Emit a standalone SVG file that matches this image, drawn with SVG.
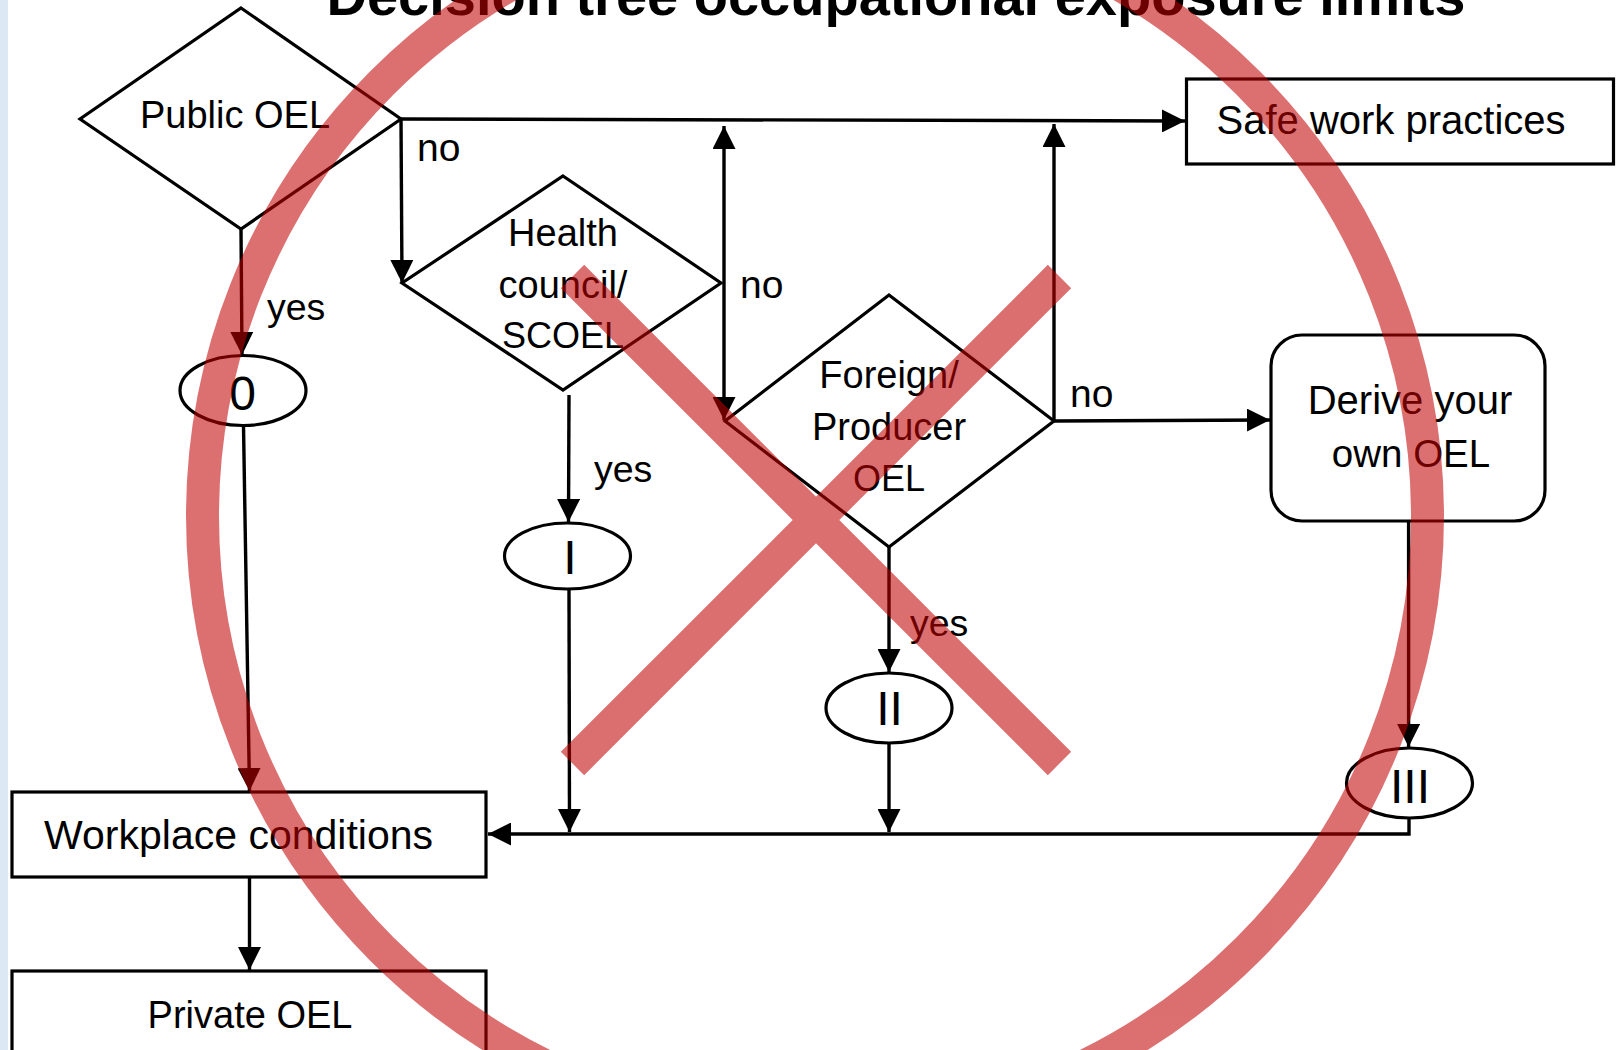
<svg xmlns="http://www.w3.org/2000/svg" width="1618" height="1050" viewBox="0 0 1618 1050">
  <style>
    .shape { fill: #ffffff; stroke: #000000; stroke-width: 3.2; }
    .conn { fill: none; stroke: #000000; stroke-width: 3.4; }
    .t { font-family: "Liberation Sans", Arial, sans-serif; font-size: 39px; fill: #000000; text-anchor: middle; }
    .lbl { font-family: "Liberation Sans", Arial, sans-serif; font-size: 39px; fill: #000000; }
    .num { font-family: "Liberation Sans", Arial, sans-serif; font-size: 48px; fill: #000000; text-anchor: middle; }
    .title { font-family: "Liberation Sans", Arial, sans-serif; font-size: 56px; font-weight: bold; fill: #000000; text-anchor: middle; }
    .red { fill: none; stroke: #c00000; stroke-width: 33; }
  </style>
  <defs>
    <marker id="arr" markerUnits="userSpaceOnUse" markerWidth="23" markerHeight="23" viewBox="0 0 22 22" refX="22" refY="11" orient="auto-start-reverse">
      <path d="M0,0 L22,11 L0,22 Z" fill="#000000"/>
    </marker>
  </defs>

  <rect x="0" y="0" width="1618" height="1050" fill="#ffffff"/>
  <rect x="0" y="0" width="8" height="1050" fill="#dde8f5"/>

  <text class="title" x="896" y="15">Decision tree occupational exposure limits</text>

  <g id="connectors">
    <line class="conn" x1="401" y1="119" x2="1185" y2="121" marker-end="url(#arr)"/>
    <line class="conn" x1="401" y1="119" x2="402" y2="283" marker-end="url(#arr)"/>
    <line class="conn" x1="241" y1="229" x2="242" y2="355" marker-end="url(#arr)"/>
    <line class="conn" x1="243.5" y1="425.5" x2="249.5" y2="791" marker-end="url(#arr)"/>
    <line class="conn" x1="569" y1="395" x2="568.5" y2="522" marker-end="url(#arr)"/>
    <line class="conn" x1="724" y1="126" x2="724" y2="420" marker-start="url(#arr)" marker-end="url(#arr)"/>
    <line class="conn" x1="1054" y1="421" x2="1054" y2="124" marker-end="url(#arr)"/>
    <line class="conn" x1="1054" y1="421" x2="1270" y2="420" marker-end="url(#arr)"/>
    <line class="conn" x1="889" y1="547" x2="889" y2="672" marker-end="url(#arr)"/>
    <line class="conn" x1="569" y1="589" x2="569.5" y2="832" marker-end="url(#arr)"/>
    <line class="conn" x1="889" y1="743" x2="889" y2="832" marker-end="url(#arr)"/>
    <line class="conn" x1="1408.6" y1="521" x2="1408.6" y2="747" marker-end="url(#arr)"/>
    <polyline class="conn" points="1409,818 1409,834 488,834" marker-end="url(#arr)"/>
    <line class="conn" x1="249.5" y1="877" x2="249.5" y2="970" marker-end="url(#arr)"/>
    <text class="lbl" x="417" y="161">no</text>
    <text class="lbl" x="740" y="298">no</text>
    <text class="lbl" x="1070" y="407">no</text>
    <text class="lbl" x="267" y="320" style="font-size:37.5px">yes</text>
    <text class="lbl" x="594" y="482" style="font-size:37.5px">yes</text>
    <text class="lbl" x="910" y="636" style="font-size:37.5px">yes</text>
  </g>

  <g id="public-oel">
    <polygon class="shape" points="241,8 401,119 241,229 80,119"/>
    <text class="t" x="235" y="128" style="font-size:38px">Public OEL</text>
  </g>
  <g id="safe-work">
    <rect class="shape" x="1186.5" y="79" width="427" height="85"/>
    <text class="t" x="1391" y="134" style="font-size:40px">Safe work practices</text>
  </g>
  <g id="health-council">
    <polygon class="shape" points="563,176 721,283 563,390 402,283"/>
    <text class="t" x="563" y="246" style="font-size:38px">Health</text>
    <text class="t" x="563" y="297.5" style="font-size:38px">council/</text>
    <text class="t" x="563" y="348" style="font-size:36px">SCOEL</text>
  </g>
  <g id="foreign-producer">
    <polygon class="shape" points="889,295 1054,421 889,547 725,421"/>
    <text class="t" x="889" y="388" style="font-size:38px">Foreign/</text>
    <text class="t" x="889" y="440" style="font-size:38px">Producer</text>
    <text class="t" x="889" y="490.5" style="font-size:36px">OEL</text>
  </g>
  <g id="derive-own">
    <rect class="shape" x="1271" y="335" width="274" height="186" rx="31" ry="31"/>
    <text class="t" x="1410" y="413.5" style="font-size:40px">Derive your</text>
    <text class="t" x="1411" y="466.5" style="font-size:38.5px">own OEL</text>
  </g>
  <g id="cat-0">
    <ellipse class="shape" cx="243" cy="390.5" rx="63" ry="35"/>
    <text class="num" x="242.5" y="409.5">0</text>
  </g>
  <g id="cat-I">
    <ellipse class="shape" cx="567.5" cy="556" rx="63" ry="33"/>
    <text class="num" x="570" y="574">I</text>
  </g>
  <g id="cat-II">
    <ellipse class="shape" cx="889" cy="708" rx="63" ry="35"/>
    <text class="num" x="889.5" y="725">II</text>
  </g>
  <g id="cat-III">
    <ellipse class="shape" cx="1409.5" cy="783" rx="63" ry="35"/>
    <text class="num" x="1410" y="803">III</text>
  </g>
  <g id="workplace">
    <rect class="shape" x="12" y="792" width="474" height="85"/>
    <text class="t" x="238.6" y="849" style="font-size:41px">Workplace conditions</text>
  </g>
  <g id="private-oel">
    <rect class="shape" x="12" y="971" width="474" height="110"/>
    <text class="t" x="250" y="1028" style="font-size:38px">Private OEL</text>
  </g>

  <g id="prohibited-overlay" opacity="0.56">
    <circle class="red" cx="815" cy="516" r="612.5"/>
    <line class="red" x1="572.5" y1="276.5" x2="1059.5" y2="763.5"/>
    <line class="red" x1="1059.5" y1="276.5" x2="572.5" y2="763.5"/>
  </g>
</svg>
